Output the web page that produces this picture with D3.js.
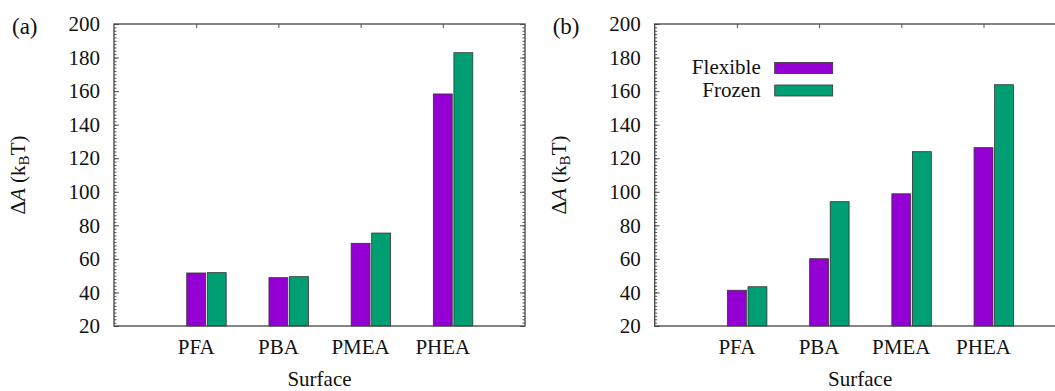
<!DOCTYPE html>
<html>
<head>
<meta charset="utf-8">
<script src="https://cdn.jsdelivr.net/npm/d3@7"></script>
<style>
    body { margin: 0; background: #fff; }
</style>
</head>
<body>
<svg id="chart" width="1055" height="391"></svg>
<script>
let surfaces = ['PFA', 'PBA', 'PMEA', 'PHEA'];
let seriesNames = ['Flexible', 'Frozen'];
let seriesColors = ['#9400d3', '#009e73'];

// panel (a)
let flexibleA = [51.6, 48.8, 69.3, 158.3];
let frozenA = [51.8, 49.4, 75.4, 182.9];

// panel (b)
let flexibleB = [41.3, 60.1, 98.8, 126.3];
let frozenB = [43.4, 94.1, 123.9, 163.8];

let yTicks = [20, 40, 60, 80, 100, 120, 140, 160, 180, 200];

let FONT = 'Liberation Serif';
let FS = 21;

let svg = d3.select('#chart');

function drawPanel(left, tag, flexible, frozen, showLegend) {
    let w = 411, top = 24, bottom = 326;
    let g = svg.append('g').attr('transform', 'translate(' + left + ',0)');

    let x = d3.scaleLinear().domain([-1, 4]).range([0, w]);
    let y = d3.scaleLinear().domain([20, 200]).range([bottom, top]);

    let barW = x(0.23) - x(0);
    let offsets = [-0.115, 0.135];

    [flexible, frozen].forEach((vals, s) => {
        g.selectAll('rect.s' + s)
            .data(vals)
            .enter()
            .append('rect')
            .attr('class', 's' + s)
            .attr('x', (d, i) => x(i + offsets[s]))
            .attr('y', d => y(d))
            .attr('width', barW)
            .attr('height', d => y(20) - y(d))
            .attr('fill', seriesColors[s])
            .attr('stroke', '#333')
            .attr('stroke-width', 0.8);
    });

    // minor ticks every 2 units
    let minor = d3.range(20, 201, 2);

    let ax = g.append('g')
        .call(d3.axisLeft(y).tickValues(yTicks).tickSizeInner(-5).tickSizeOuter(0).tickPadding(14));
    ax.select('.domain').remove();
    ax.selectAll('text').attr('x', -14);

    let ml = g.append('g').call(d3.axisLeft(y).tickValues(minor).tickSize(-2.5).tickFormat(''));
    ml.select('.domain').remove();

    let ar = g.append('g').attr('transform', 'translate(' + w + ',0)')
        .call(d3.axisRight(y).tickValues(yTicks).tickSize(-5).tickFormat(''));
    ar.select('.domain').remove();
    let mr = g.append('g').attr('transform', 'translate(' + w + ',0)')
        .call(d3.axisRight(y).tickValues(minor).tickSize(-2.5).tickFormat(''));
    mr.select('.domain').remove();

    let at = g.append('g').attr('transform', 'translate(0,' + top + ')')
        .call(d3.axisTop(x).tickValues([0, 1, 2, 3]).tickSize(-4).tickFormat(''));
    at.select('.domain').remove();

    g.selectAll('.tick line').attr('stroke', '#555');

    g.selectAll('text.cat')
        .data(surfaces)
        .enter()
        .append('text')
        .attr('class', 'cat')
        .attr('x', (d, i) => x(i))
        .attr('y', bottom + 28)
        .attr('text-anchor', 'middle')
        .text(d => d);

    g.append('rect')
        .attr('x', 0).attr('y', top)
        .attr('width', w).attr('height', bottom - top)
        .attr('fill', 'none')
        .attr('stroke', '#444')
        .attr('stroke-width', 1.3);

    g.append('text')
        .attr('x', w / 2)
        .attr('y', 386)
        .attr('text-anchor', 'middle')
        .text('Surface');

    let yl = g.append('text')
        .attr('transform', 'translate(-89,' + ((top + bottom) / 2) + ') rotate(-90)')
        .attr('text-anchor', 'middle');
    yl.append('tspan').text('Δ');
    yl.append('tspan').attr('font-style', 'italic').text('A');
    yl.append('tspan').text(' (k');
    yl.append('tspan').attr('dy', 4).attr('font-size', 15).text('B');
    yl.append('tspan').attr('dy', -4).text('T)');

    svg.append('text')
        .attr('x', left - 102)
        .attr('y', 34)
        .attr('font-size', 23)
        .text(tag);

    if (showLegend) {
        let lg = g.append('g');
        seriesNames.forEach((name, s) => {
            let cy = 68 + s * 22.5;
            lg.append('text')
                .attr('x', 106)
                .attr('y', cy + 6)
                .attr('text-anchor', 'end')
                .text(name);
            lg.append('rect')
                .attr('x', 120).attr('y', cy - 5.5)
                .attr('width', 58).attr('height', 11)
                .attr('fill', seriesColors[s])
                .attr('stroke', '#333')
                .attr('stroke-width', 0.8);
        });
    }
}

drawPanel(114, '(a)', flexibleA, frozenA, false);
drawPanel(654.7, '(b)', flexibleB, frozenB, true);

// axis groups carry font-family="sans-serif"; put the serif face on every text
svg.selectAll('g').attr('font-family', FONT);
svg.selectAll('text').each(function () {
    let t = d3.select(this);
    t.attr('font-family', FONT).attr('fill', '#111');
    if (!t.attr('font-size')) t.attr('font-size', FS);
});
</script>
</body>
</html>
